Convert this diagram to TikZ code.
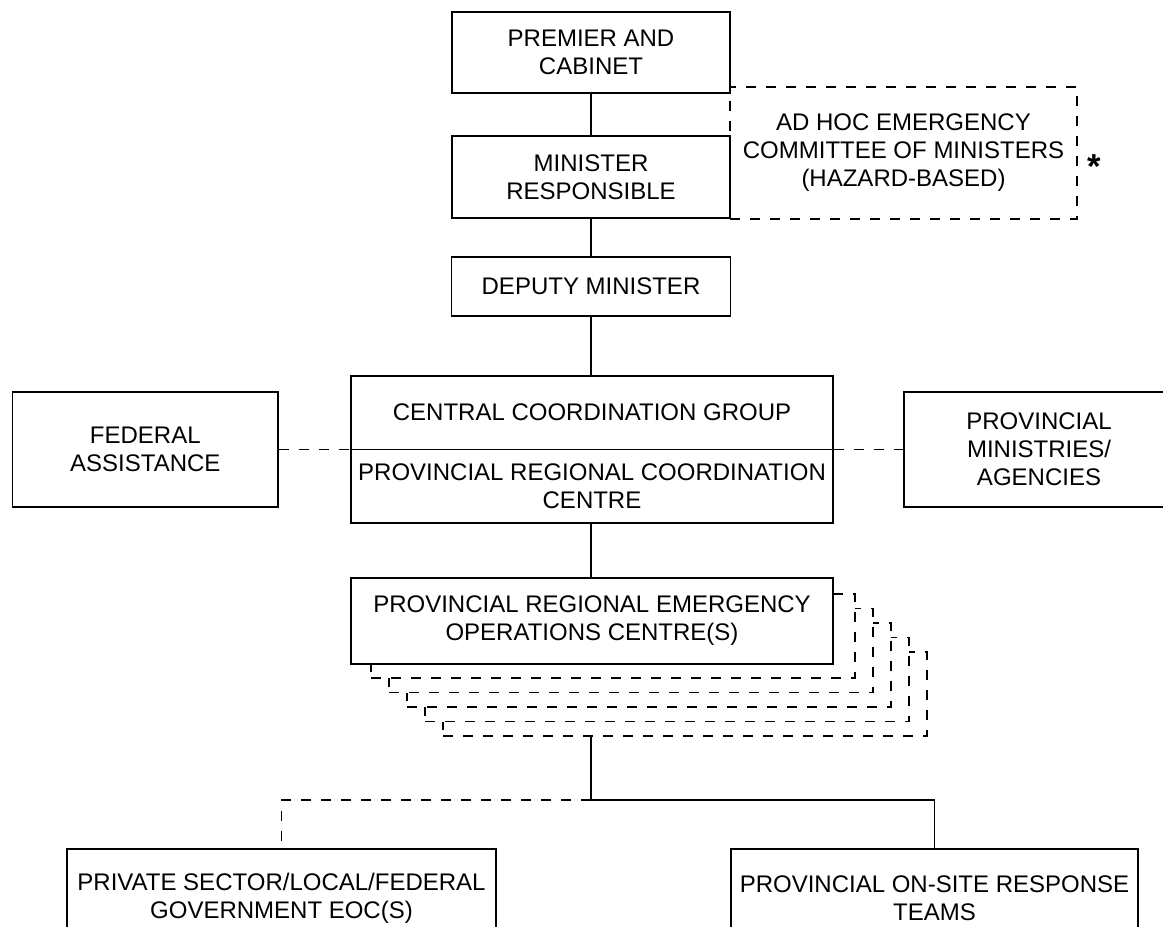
\documentclass[tikz,border=0pt]{standalone}
\usepackage{fontspec}
\setmainfont{Liberation Sans}
\begin{document}
\begin{tikzpicture}[x=0.75pt,y=-0.75pt,
  line width=1pt,
  every node/.style={font=\fontsize{18}{21}\selectfont, align=center, inner sep=0pt},
  box/.style={draw, fill=white, rectangle},
  dashbox/.style={draw, fill=white, rectangle, dash pattern=on 7.5pt off 7.5pt},
  link/.style={draw},
  dlink/.style={draw, dash pattern=on 7.5pt off 7.5pt}]
\useasboundingbox (0,0) rectangle (1163,927);

% ad hoc committee (behind the minister boxes)
\node[dashbox, minimum width=260.25pt, minimum height=99pt] (adhoc) at (903.5,153)
  {AD HOC EMERGENCY\\COMMITTEE OF MINISTERS\\(HAZARD-BASED)};
\node[anchor=base, font=\fontsize{26}{26}\bfseries] (star) at (1094,179) {*};

% chain of command
\node[box, minimum width=208.5pt, minimum height=60.75pt] (premier) at (591,52.5)
  {PREMIER AND\\CABINET};
\node[box, minimum width=208.5pt, minimum height=61.5pt] (minister) at (591,177)
  {MINISTER\\RESPONSIBLE};
\node[box, minimum width=209.25pt, minimum height=44.25pt] (deputy) at (591,286.5)
  {DEPUTY MINISTER};
\node[box, minimum width=361.5pt, minimum height=110.25pt] (central) at (592,449.5) {};
\draw (central.west) -- (central.east);
\node (ccg) at (592,412.5) {CENTRAL COORDINATION GROUP};
\node (prcc) at (592,486) {PROVINCIAL REGIONAL COORDINATION\\CENTRE};

% side boxes
\node[box, minimum width=199pt, minimum height=86.25pt] (federal) at (145.3,449.5)
  {FEDERAL\\ASSISTANCE};
\node[box, minimum width=202.5pt, minimum height=86.25pt] (ministries) at (1039,449.5)
  {PROVINCIAL\\MINISTRIES/\\AGENCIES};

% stack of regional operations centres
\foreach \i in {5,4,3,2,1}{
  \pgfmathsetmacro{\cx}{613+18*(\i-1)}
  \pgfmathsetmacro{\cy}{636+14.5*(\i-1)}
  \node[dashbox, minimum width=363pt, minimum height=63pt] (preoc\i) at (\cx,\cy) {};
}
\node[box, minimum width=361.5pt, minimum height=64.5pt] (preoc) at (592,621)
  {PROVINCIAL REGIONAL EMERGENCY\\OPERATIONS CENTRE(S)};

% field level
\node[box, minimum width=321.75pt, minimum height=74.25pt] (private) at (281.5,898.5)
  {PRIVATE SECTOR/LOCAL/FEDERAL\\GOVERNMENT EOC(S)};
\node[box, minimum width=305.25pt, minimum height=74.25pt] (onsite) at (934.5,898.5)
  {PROVINCIAL ON-SITE RESPONSE\\TEAMS};

% connectors
\coordinate (junction) at (591,800);
\draw[link] (premier.south -| 591,0) -- (minister.north -| 591,0);
\draw[link] (minister.south -| 591,0) -- (deputy.north -| 591,0);
\draw[link] (deputy.south -| 591,0) -- (central.north -| 591,0);
\draw[link] (central.south -| 591,0) -- (preoc.north -| 591,0);
\draw[link] (preoc5.south -| 591,0) -- (junction);
\draw[link] (junction) -| (onsite.north);
\draw[dlink] (junction) -| (private.north);
\draw[dlink] (federal.east) -- (central.west);
\draw[dlink] (central.east) -- (ministries.west);
\end{tikzpicture}
\end{document}
